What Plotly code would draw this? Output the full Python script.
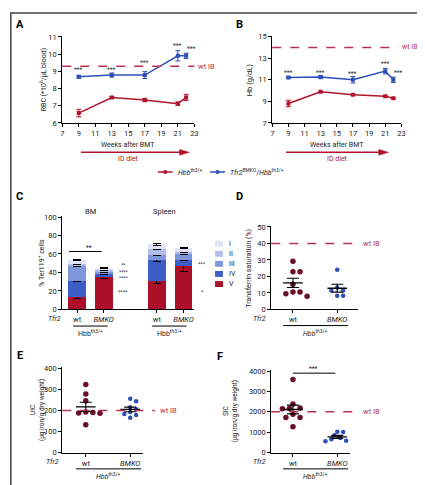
import plotly.graph_objects as go
import numpy as np

W, H = 425, 485
FONT = "Roboto, Liberation Sans, sans-serif"
RED = "#b0142c"
BLUE = "#2f4fb8"
WTIB = "#b5334f"
MAROON = "#6a1026"

# ---------------- data ----------------
weeks = [9, 13, 17, 21, 22]
rbc_hbb = [6.57, 7.48, 7.33, 7.12, 7.48]
rbc_hbb_err = [0.22, 0.05, 0.1, 0.1, 0.18]
rbc_tfr2 = [8.68, 8.78, 8.78, 9.9, 9.9]
rbc_tfr2_err = [0.08, 0.12, 0.2, 0.3, 0.15]
rbc_wtib = 9.3

hb_hbb = [8.8, 9.88, 9.6, 9.47, 9.28]
hb_hbb_err = [0.3, 0.05, 0.05, 0.05, 0.05]
hb_tfr2 = [11.22, 11.25, 11.0, 11.8, 11.0]
hb_tfr2_err = [0.06, 0.15, 0.3, 0.25, 0.25]
hb_wtib = 14

ter_cats = ["BM wt", "BM BMKO", " ", "Spleen wt", "Spleen BMKO"]
ter_tickcats = ["BM wt", "BM BMKO", "Spleen wt", "Spleen BMKO"]
ter_ticks = ["wt", "<i>BMKO</i>", "wt", "<i>BMKO</i>"]
stage_names = ["V", "IV", "III", "II", "I"]
stage_vals = {
    "V":   [13, 35, None, 31, 46.5],
    "IV":  [17.5, 3.5, None, 23, 7],
    "III": [17, 2.5, None, 5, 7],
    "II":  [1.5, 2, None, 6.5, 1.5],
    "I":   [4.5, 1.5, None, 5, 4],
}
stage_errs = {
    "V":   [1, 2, 0, 3, 6],
    "IV":  [0.5, 1, 0, 2, 1],
    "III": [1, 1, 0, 1, 1],
    "II":  [0.5, 0.5, 0, 1, 0.5],
    "I":   [0.5, 0.5, 0, 1, 0.5],
}
stage_colors = {"I": "#dfe4f6", "II": "#aebde9", "III": "#7e97dc", "IV": "#3c5ec6", "V": "#ad0f28"}

groups = ["wt", "BMKO"]
tsat_wt = [29.2, 22.8, 22.8, 15.3, 10.5, 9.5, 10.5, 7.9]
tsat_bmko = [24, 13.3, 11.5, 11.5, 8.3, 8.3]
tsat_wtib = 40
uic_wt = [323, 277, 246, 192, 190, 188, 186, 132]
uic_bmko = [255, 243, 215, 205, 192, 183, 165, 178]
uic_wtib = 200
sic_wt = [3580, 2380, 2190, 2150, 2160, 1880, 1720, 1720, 1270]
sic_bmko = [1030, 1010, 850, 720, 660, 580, 560]
sic_wtib = 2000


def px(x):
    return x / W


def py(y):
    return 1 - y / H


def swarm(vals, center, ppy, ppx, d):
    placed = []
    xs = [0.0] * len(vals)
    for i in sorted(range(len(vals)), key=lambda k: -vals[k]):
        yp = vals[i] * ppy
        off = 0.0
        for k in [0, 1, -1, 2, -2, 3, -3, 4, -4]:
            o = k * d * 0.6
            if all((o - a) ** 2 + (yp - b) ** 2 >= (d * 0.95) ** 2 for a, b in placed):
                off = o
                break
        placed.append((off, yp))
        xs[i] = center + off / ppx
    return xs


fig = go.Figure()

axis_common = dict(showline=True, linecolor="black", linewidth=1, ticks="outside",
                   ticklen=3, tickwidth=1, tickcolor="black", showgrid=False, zeroline=False,
                   tickfont=dict(size=7.5, color="#222", family=FONT))

# ---------------- A & B line charts ----------------
def line_panel(xa, ya, ys_hbb, e_hbb, ys_tfr, e_tfr):
    fig.add_trace(go.Scatter(x=weeks, y=ys_hbb, mode="lines+markers", xaxis=xa, yaxis=ya,
                             line=dict(color=RED, width=1.5), marker=dict(color=RED, size=4, symbol="square"),
                             error_y=dict(type="data", array=e_hbb, color=RED, thickness=1, width=2.5),
                             showlegend=False))
    fig.add_trace(go.Scatter(x=weeks, y=ys_tfr, mode="lines+markers", xaxis=xa, yaxis=ya,
                             line=dict(color=BLUE, width=1.5), marker=dict(color=BLUE, size=4, symbol="square"),
                             error_y=dict(type="data", array=e_tfr, color=BLUE, thickness=1, width=2.5),
                             showlegend=False))

line_panel("x", "y", rbc_hbb, rbc_hbb_err, rbc_tfr2, rbc_tfr2_err)
line_panel("x2", "y2", hb_hbb, hb_hbb_err, hb_tfr2, hb_tfr2_err)

# ---------------- C stacked bars ----------------
for s in stage_names:
    fig.add_trace(go.Bar(x=ter_cats, y=stage_vals[s], xaxis="x3", yaxis="y3",
                         marker=dict(color=stage_colors[s], line=dict(width=0)), width=0.67,
                         error_y=dict(type="data", array=stage_errs[s], color="black", thickness=1, width=4),
                         showlegend=False))

# ---------------- D, E, F dot plots ----------------
def dot_panel(xa, ya, wt, bm, ppy, wtcol=MAROON, bmcol=BLUE):
    for gi, (vals, col, sz, d) in enumerate([(wt, wtcol, 5.5, 6), (bm, bmcol, 4.5, 5)]):
        xs = swarm(vals, gi, ppy, 45, d)
        fig.add_trace(go.Scatter(x=xs, y=vals, mode="markers", xaxis=xa, yaxis=ya,
                                 marker=dict(color=col, size=sz), showlegend=False))
        arr = np.array(vals, dtype=float)
        m = arr.mean()
        sem = arr.std(ddof=1) / np.sqrt(len(arr))
        fig.add_trace(go.Scatter(x=[gi], y=[m], mode="markers", xaxis=xa, yaxis=ya,
                                 marker=dict(symbol="line-ew", size=14, line=dict(color="black", width=1.3)),
                                 error_y=dict(type="data", array=[sem], color="black", thickness=1.1, width=6),
                                 showlegend=False))

dot_panel("x4", "y4", tsat_wt, tsat_bmko, 84 / 50)
dot_panel("x5", "y5", uic_wt, uic_bmko, 86 / 400)
dot_panel("x6", "y6", sic_wt, sic_bmko, 83 / 4000)

# ---------------- layout axes ----------------
lay = {}
lay["xaxis"] = dict(axis_common, domain=[px(53), px(187)], anchor="y", range=[7, 23], tickvals=list(range(7, 24, 2)))
lay["yaxis"] = dict(axis_common, domain=[py(113), py(24)], anchor="x", range=[6, 11.08], dtick=1)
lay["xaxis2"] = dict(axis_common, domain=[px(266), px(397)], anchor="y2", range=[7, 23], tickvals=list(range(7, 24, 2)))
lay["yaxis2"] = dict(axis_common, domain=[py(113), py(24)], anchor="x2", range=[7, 15.1], tickvals=[7, 9, 11, 13, 15])
lay["xaxis3"] = dict(axis_common, domain=[px(53), px(187)], anchor="y3", type="category",
                     range=[-0.556, 4.407], tickvals=ter_tickcats, ticktext=ter_ticks)
lay["yaxis3"] = dict(axis_common, domain=[py(303), py(208)], anchor="x3", range=[0, 101], dtick=20)
lay["xaxis4"] = dict(axis_common, domain=[px(265), px(353)], anchor="y4", range=[-0.49, 1.47],
                     tickvals=[0, 1], ticktext=["wt", "<i>BMKO</i>"])
lay["yaxis4"] = dict(axis_common, domain=[py(303), py(218)], anchor="x4", range=[0, 50.6], dtick=10)
lay["xaxis5"] = dict(axis_common, domain=[px(53), px(135)], anchor="y5", range=[-0.53, 1.29],
                     tickvals=[0, 1], ticktext=["wt", "<i>BMKO</i>"])
lay["yaxis5"] = dict(axis_common, domain=[py(449), py(362)], anchor="x5", range=[0, 404], dtick=100)
lay["xaxis6"] = dict(axis_common, domain=[px(265), px(345)], anchor="y6", range=[-0.49, 1.29],
                     tickvals=[0, 1], ticktext=["wt", "<i>BMKO</i>"])
lay["yaxis6"] = dict(axis_common, domain=[py(449), py(365)], anchor="x6", range=[0, 4040], dtick=1000)

shapes = []
ann = []


def text(x, y, t, size=7, color="#222", xanchor="center", angle=0, bold=False):
    ann.append(dict(x=px(x), y=py(y), xref="paper", yref="paper", text=("<b>%s</b>" % t if bold else t),
                    showarrow=False, xanchor=xanchor, yanchor="middle", textangle=angle,
                    font=dict(size=size, color=color, family=FONT)))


def hline(x0, x1, y, color="black", width=1, dash="solid"):
    shapes.append(dict(type="line", xref="paper", yref="paper", x0=px(x0), x1=px(x1), y0=py(y), y1=py(y),
                       line=dict(color=color, width=width, dash=dash)))


def wtib(yref, val, x0, x1, tx, size=7.5):
    shapes.append(dict(type="line", xref="paper", yref=yref, x0=px(x0), x1=px(x1), y0=val, y1=val,
                       line=dict(color=WTIB, width=1.5, dash="dash")))
    ann.append(dict(x=px(tx), y=val, xref="paper", yref=yref, text="wt IB", showarrow=False,
                    xanchor="left", font=dict(size=size, color=WTIB, family=FONT)))

# panel labels
for lab, x, y in [("A", 10, 13), ("B", 233, 13), ("C", 10, 188), ("D", 233, 188), ("E", 10, 350), ("F", 213, 351)]:
    text(x, y, lab, size=11, color="black", bold=True)

# A/B
wtib("y", rbc_wtib, 53, 187, 189)
wtib("y2", hb_wtib, 266, 394, 396, size=7)
text(33, 69, "RBC (*10<sup>6</sup>/µL blood)", size=7, angle=-90)
text(243, 69, "Hb (g/dL)", size=7.5, angle=-90)
for cx, x0, x1 in [(120, 72, 182), (332, 280, 384)]:
    text(cx, 136, "Weeks after BMT", size=7)
    hline(x0, x1 - 6, 143, color=RED, width=1.5)
    shapes.append(dict(type="path", xref="paper", yref="paper",
                       path="M %f,%f L %f,%f L %f,%f Z" % (px(x1), py(143), px(x1 - 10), py(140), px(x1 - 10), py(146)),
                       fillcolor=RED, line=dict(color=RED, width=0.5)))
    text(cx, 150, "ID diet", size=7, color=RED)

# stars A, B
for xr, yref, xs_, ys_ in [("x", "y", [9, 13, 17, 21, 22.6], [9.05, 9.05, 9.47, 10.5, 10.3]),
                           ("x2", "y2", [9, 13, 17, 21, 22.7], [11.6, 11.6, 11.5, 12.45, 11.6])]:
    for xv, yv in zip(xs_, ys_):
        ann.append(dict(x=xv, y=yv, xref=xr, yref=yref, text="***", showarrow=False,
                        font=dict(size=6.5, color="#333", family=FONT)))

# legend
for x0, col, t in [(150, RED, "<i>Hbb</i><sup>th3/+</sup>"), (203, BLUE, "<i>Tfr2</i><sup>BMKO</sup>/<i>Hbb</i><sup>th3/+</sup>")]:
    hline(x0, x0 + 15, 163, color=col, width=1.5)
    shapes.append(dict(type="circle", xref="paper", yref="paper", x0=px(x0 + 5.5), x1=px(x0 + 9.5),
                       y0=py(165), y1=py(161), fillcolor=col, line=dict(color=col, width=0)))
    text(x0 + 18, 163, t, size=7, xanchor="left")

# C
text(32, 256, "% Ter119<sup>+</sup> cells", size=7, angle=-90)
text(82, 203, "BM", size=7.5)
text(157, 203, "Spleen", size=7.5)
hline(60, 93, 244)
text(80, 240, "**", size=6.5)
text(115, 264, "**<br>****<br>****", size=5)
text(115, 285, "****", size=5.5)
text(195, 257, "***", size=5.5)
text(195, 285, "*", size=5.5)
for i, s in enumerate(["I", "II", "III", "IV", "V"]):
    yy = 236 + i * 10.3
    shapes.append(dict(type="rect", xref="paper", yref="paper", x0=px(208), x1=px(216), y0=py(yy + 3), y1=py(yy - 3),
                       fillcolor=stage_colors[s], line=dict(width=0)))
    text(220, yy, s, size=7, xanchor="left")

# group labels under C/D/E/F
def group_label(tx, lx0, lx1, ytick, hbb_italic=True):
    text(tx, ytick, "<i>Tfr2</i>", size=7)
    hline(lx0, lx1, ytick + 6.5, width=1)
    h = "<i>Hbb</i><sup>th3/+</sup>" if hbb_italic else "Hbb<sup>th3/+</sup>"
    text((lx0 + lx1) / 2, ytick + 14, h, size=7)

text(45, 313, "<i>Tfr2</i>", size=7)
hline(64, 99, 320)
text(82, 327, "Hbb<sup>th3/+</sup>", size=7)
hline(144, 179, 320)
text(162, 327, "Hbb<sup>th3/+</sup>", size=7)

group_label(253, 277, 343, 313)
group_label(43, 67, 133, 459)
group_label(253, 277, 343, 459)

# D
text(243, 261, "Transferrin saturation (%)", size=7, angle=-90)
wtib("y4", tsat_wtib, 265, 353, 356)
# E
text(28, 406, "UIC<br>(µg iron/g dry weight)", size=6.5, angle=-90)
wtib("y5", uic_wtib, 53, 147, 150)
# F
text(224, 407, "SIC<br>(µg iron/g dry weight)", size=6.5, angle=-90)
wtib("y6", sic_wtib, 265, 353, 356)
hline(287, 330, 368)
text(308, 364, "***", size=6.5)

# frame
shapes.append(dict(type="rect", xref="paper", yref="paper", x0=0.002, x1=0.995, y0=0.004, y1=0.998,
                   line=dict(color="#444", width=1.5)))

fig.update_layout(width=W, height=H, margin=dict(l=0, r=0, t=0, b=0), paper_bgcolor="white",
                  plot_bgcolor="white", barmode="stack", showlegend=False, shapes=shapes, annotations=ann,
                  font=dict(family=FONT, size=7, color="#222"), **lay)

fig.write_html("out.html")
